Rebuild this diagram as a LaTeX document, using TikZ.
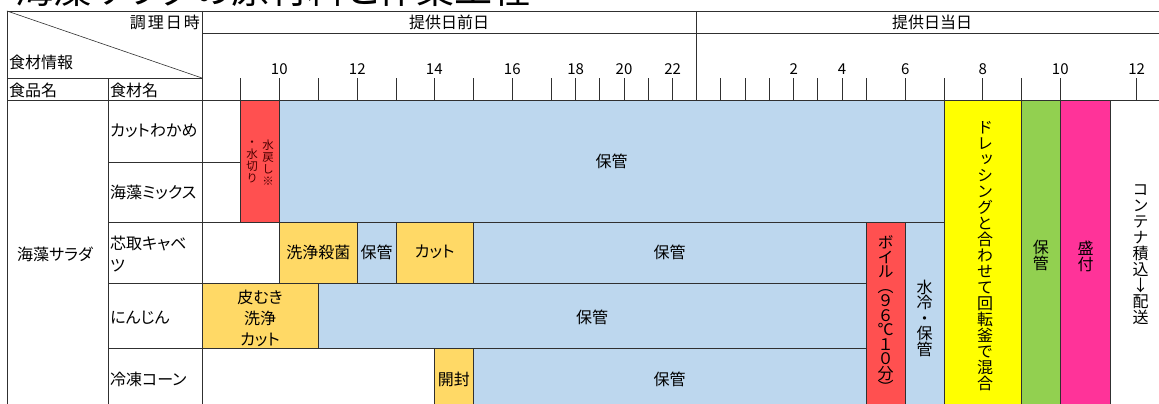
\documentclass[tikz,border=0pt]{standalone}
\usepackage{fontspec}
\setmainfont{Noto Sans CJK JP}[RawFeature=+palt]
\newfontfamily\vfont{Noto Sans CJK JP}[RawFeature=+vert]
\definecolor{cblue}{HTML}{BDD7EE}
\definecolor{corange}{HTML}{FFD966}
\definecolor{cred}{HTML}{FF5050}
\definecolor{cyellow}{HTML}{FFFF00}
\definecolor{cgreen}{HTML}{92D050}
\definecolor{cpink}{HTML}{FF3399}
\definecolor{cline}{HTML}{303030}
\newcommand\vsetup{\lineskiplimit=-100pt\relax\lineskip=0pt\relax}
\tikzset{
  grid/.style={draw=cline, line width=0.9pt},
  bar/.style={draw=cline, line width=0.9pt},
  txt/.style={inner sep=0pt, font=\fontsize{16}{16}\selectfont},
  num/.style={inner sep=0pt, font=\fontsize{15}{15}\selectfont},
  vtxt/.style={inner sep=0pt, align=center, font=\vfont\fontsize{16}{16}\selectfont\vsetup},
  vsmall/.style={inner sep=0pt, align=center, font=\vfont\fontsize{11.5}{12}\selectfont\vsetup},
}
\begin{document}
\begin{tikzpicture}[x=1pt,y=-1pt]
\useasboundingbox (0,0) rectangle (1159,404);
\clip (0,0) rectangle (1159,404);
\fill[white] (0,0) rectangle (1159,404);
% title (cut off)
\node[anchor=base west, inner sep=0pt, font=\fontsize{38}{38}\selectfont] (title) at (15,3.5) {海藻サラダの原材料と作業工程};
% bars
\path[bar, fill=cred]    (240.7,100) rectangle (279.3,222);
\path[bar, fill=cblue]   (279.3,100) rectangle (944,222);
\path[bar, fill=corange] (279.3,222) rectangle (357.3,283);
\path[bar, fill=cblue]   (357.3,222) rectangle (396,283);
\path[bar, fill=corange] (396,222) rectangle (473.3,283);
\path[bar, fill=cblue]   (473.3,222) rectangle (866,283);
\path[bar, fill=corange] (202,283) rectangle (318.3,348);
\path[bar, fill=cblue]   (318.3,283) rectangle (866,348);
\path[bar, fill=corange] (434.3,348) rectangle (473.3,410);
\path[bar, fill=cblue]   (473.3,348) rectangle (866,410);
\path[bar, fill=cred]    (866,222) rectangle (905.3,410);
\path[bar, fill=cblue]   (905.3,222) rectangle (944,410);
\path[bar, fill=cyellow] (944,100) rectangle (1021.3,410);
\path[bar, fill=cgreen]  (1021.3,100) rectangle (1060.3,410);
\path[bar, fill=cpink]   (1060.3,100) rectangle (1110.7,410);
% grid
\draw[grid] (7,11) -- (1165,11);
\draw[grid] (202,33) -- (1165,33);
\draw[grid] (7,11) -- (7,410);
\draw[grid] (202,11) -- (202,410);
\draw[grid] (696,11) -- (696,100);
\draw[draw=cline, line width=0.6pt] (7,11) -- (202,78);
\draw[grid] (7,78) -- (202,78);
\draw[grid] (108,78) -- (108,410);
\draw[grid] (7,100) -- (1165,100);
\draw[grid] (108,162) -- (240.7,162);
\draw[grid] (108,222) -- (944,222);
\draw[grid] (108,283) -- (866,283);
\draw[grid] (108,348) -- (866,348);
\foreach \x in {240.7,279.3,318.3,357.3,396,434.3,473.3,512.3,551,575.7,599.7,624,648.3,672.7,720.7,745.3,769.3,793.7,817.7,842,866.3,905.3,944,982.7,1021.3,1060.3,1136.7}
  \draw[grid] (\x,78) -- (\x,100);
% header texts
\node[txt, anchor=east] (hdate) at (200,22) {調\hspace{2pt}理\hspace{2pt}日\hspace{2pt}時};
\node[txt] (hprev) at (449,22) {提供日前日};
\node[txt] (hday) at (932,22) {提供日当日};
\node[txt, anchor=west] (hinfo) at (9,62) {食材情報};
\node[txt, anchor=west] (hfood) at (9,90) {食品名};
\node[txt, anchor=west] (hing) at (110,90) {食材名};
% hour labels
\foreach \x/\t in {279.3/10,357.3/12,434.3/14,512.3/16,575.7/18,624/20,672.7/22,793.7/2,842/4,905.3/6,982.7/8,1060.3/10,1136.7/12}
  \node[num] at (\x,69) {\t};
% row labels
\node[txt, anchor=west] (food) at (17,254) {海藻サラダ};
\node[txt, anchor=west] (ing1) at (110,131) {カットわかめ};
\node[txt, anchor=west] (ing2) at (110,192) {海藻ミックス};
\node[txt, anchor=west, align=left] (ing3) at (110,254) {芯取キャベ\\[6pt]ツ};
\node[txt, anchor=west] (ing4) at (110,318) {にんじん};
\node[txt, anchor=west] (ing5) at (110,379) {冷凍コーン};
% bar texts
\node[vsmall, text=black!70!red] (r1a) at (268,163) {水\\戻\\し\\※};
\node[vsmall, text=black!70!red] (r1b) at (252,162) {・\\水\\切\\り};
\node[txt] (b1) at (611.5,161) {保管};
\node[txt] (o1) at (318.3,252) {洗浄殺菌};
\node[txt] (b2) at (376.6,252) {保管};
\node[txt] (o2) at (434.6,252) {カット};
\node[txt] (b3) at (669.6,252) {保管};
\node[txt, align=center, font=\fontsize{16}{21}\selectfont] (o3) at (260,318) {皮むき\\洗浄\\カット};
\node[txt] (b4) at (592,317) {保管};
\node[txt] (o4) at (453.8,379) {開封};
\node[txt] (b5) at (669.6,379) {保管};
\node[vtxt, font=\vfont\fontsize{16}{14.5}\selectfont\vsetup] (boil) at (885.6,315) {ボ\\イ\\ル\\（\\９\\６\\℃\\１\\０\\分\\）};
\node[vtxt, font=\vfont\fontsize{16}{15.5}\selectfont\vsetup] (cool) at (924.6,318) {水\\冷\\・\\保\\管};
\node[vtxt] (mix) at (985,256.5) {ド\\レ\\ッ\\シ\\ン\\グ\\と\\合\\わ\\せ\\て\\回\\転\\釜\\で\\混\\合};
\node[vtxt] (keep) at (1040.8,255) {保\\管};
\node[vtxt] (serve) at (1085.5,256) {盛\\付};
\node[vtxt] (ship) at (1140.5,255) {コ\\ン\\テ\\ナ\\積\\込\\↓\\配\\送};
\end{tikzpicture}
\end{document}
